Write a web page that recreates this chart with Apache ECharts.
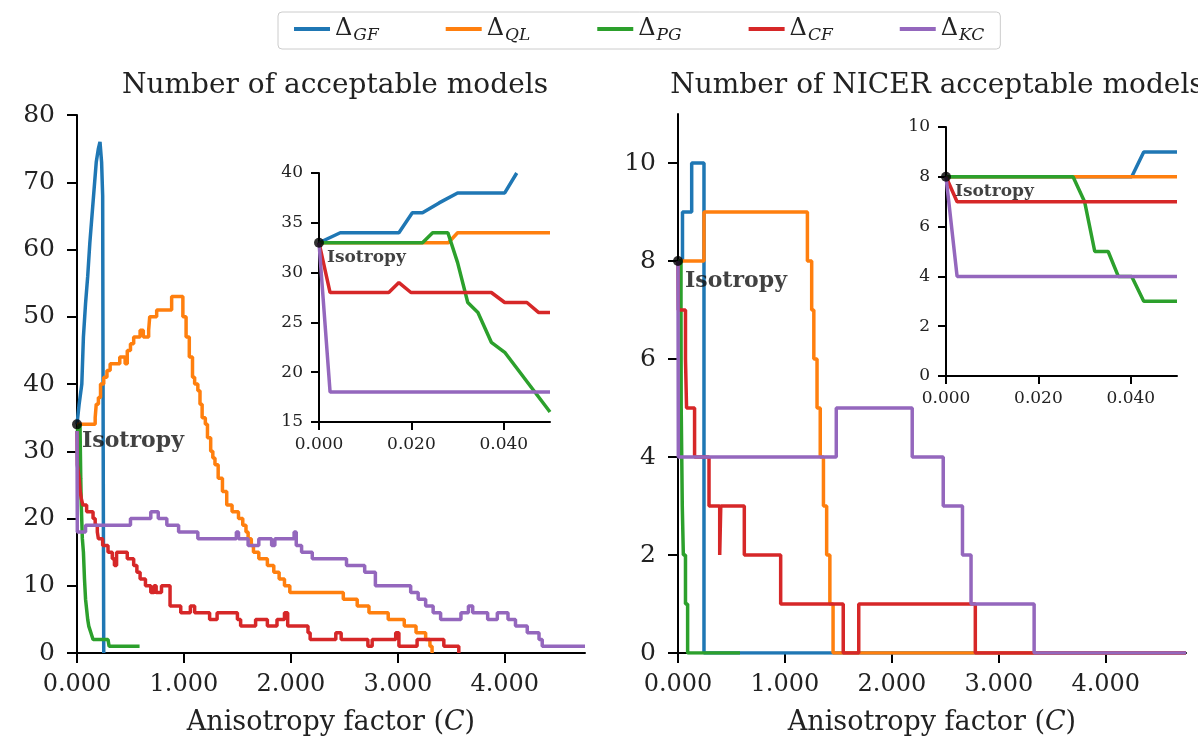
<!DOCTYPE html>
<html>
<head>
<meta charset="utf-8">
<script src="https://cdn.jsdelivr.net/npm/echarts@6/dist/echarts.min.js"></script>
<style>
html, body { margin: 0; padding: 0; background: #fff; }
#chart { width: 1198px; height: 746px; }
</style>
</head>
<body>
<div id="chart"></div>
<script>
// legend subscripts: Δ_GF, Δ_QL, Δ_PG, Δ_CF, Δ_KC
const names = ['GF', 'QL', 'PG', 'CF', 'KC'];
const colors = {GF: '#1f77b4', QL: '#ff7f0e', PG: '#2ca02c', CF: '#d62728', KC: '#9467bd'};

const mainTicksX = [0, 1, 2, 3, 4];
const insetTicksX = [0, 0.02, 0.04];
const nicerTicksY = [0, 2, 4, 6, 8, 10];

// ---- left: number of acceptable models, C from 0 to 4.75 ----
const allGF = [[0, 34], [0.02, 37], [0.045, 40], [0.06, 47], [0.08, 52], [0.1, 56], [0.12, 61], [0.14, 65], [0.16, 69], [0.18, 73], [0.2, 75], [0.215, 76], [0.23, 73], [0.24, 68], [0.245, 30], [0.25, 0]];
const allQL = [[0, 34], [0.17, 35], [0.18, 37], [0.2, 38], [0.22, 40], [0.25, 41], [0.28, 42], [0.31, 43], [0.4, 44], [0.45, 43], [0.47, 45], [0.5, 46], [0.53, 47], [0.59, 48], [0.62, 47], [0.67, 48], [0.68, 50], [0.745, 51], [0.885, 53], [0.99, 50], [1.02, 47], [1.05, 44], [1.08, 41], [1.1, 40], [1.13, 39], [1.15, 37], [1.17, 35], [1.2, 34], [1.22, 32], [1.25, 30], [1.27, 29], [1.29, 28], [1.32, 26], [1.36, 24], [1.4, 22], [1.45, 21], [1.51, 20], [1.55, 19], [1.58, 18], [1.6, 17], [1.63, 16], [1.65, 15], [1.7, 14], [1.78, 13], [1.84, 12], [1.89, 11], [1.94, 10], [1.99, 9], [2.49, 8], [2.62, 7], [2.73, 6], [2.91, 5], [3.06, 4], [3.17, 3], [3.26, 2], [3.3, 1], [3.32, 0]];
const allPG = [[0, 33], [0.028, 34], [0.035, 26], [0.04, 22], [0.05, 17], [0.06, 15], [0.07, 11], [0.08, 8], [0.1, 5], [0.11, 4], [0.13, 3], [0.15, 2], [0.29, 2], [0.3, 1], [0.585, 1]];
const allCF = [[0, 33], [0.003, 28], [0.02, 26], [0.03, 24], [0.04, 23], [0.055, 22], [0.09, 21], [0.15, 20], [0.17, 19], [0.19, 18], [0.2, 17], [0.24, 16], [0.29, 15], [0.33, 14], [0.35, 13], [0.37, 15], [0.47, 14], [0.53, 13], [0.56, 12], [0.59, 11], [0.64, 10], [0.69, 9], [0.72, 10], [0.74, 9], [0.79, 10], [0.87, 7], [0.97, 6], [1.06, 7], [1.1, 6], [1.24, 5], [1.31, 6], [1.5, 5], [1.53, 4], [1.67, 5], [1.78, 4], [1.87, 5], [1.94, 6], [1.97, 4], [2.16, 3], [2.18, 2], [2.42, 3], [2.47, 2], [2.72, 1], [2.76, 2], [2.98, 3], [3.01, 1], [3.18, 2], [3.43, 1], [3.57, 0]];
const allKC = [[0, 33], [0.003, 18], [0.08, 19], [0.5, 20], [0.69, 21], [0.76, 20], [0.84, 19], [0.95, 18], [1.13, 17], [1.49, 18], [1.51, 17], [1.6, 16], [1.7, 17], [1.82, 16], [1.85, 17], [2.03, 18], [2.05, 16], [2.1, 15], [2.2, 14], [2.52, 13], [2.69, 12], [2.79, 10], [3.12, 9], [3.19, 8], [3.26, 7], [3.33, 6], [3.4, 5], [3.59, 6], [3.66, 7], [3.7, 6], [3.84, 5], [3.93, 6], [4.03, 5], [4.1, 4], [4.21, 3], [4.32, 2], [4.35, 1], [4.75, 1]];

// left inset, C from 0 to 0.05
const zoomGF = [[0, 33], [0.0046, 34], [0.0173, 34], [0.0202, 36], [0.0224, 36], [0.026, 37], [0.03, 38], [0.0402, 38], [0.0428, 40]];
const zoomQL = [[0, 33], [0.028, 33], [0.03, 34], [0.05, 34]];
const zoomPG = [[0, 33], [0.0224, 33], [0.0246, 34], [0.0279, 34], [0.03, 31], [0.0322, 27], [0.0344, 26], [0.0373, 23], [0.0402, 22], [0.05, 16]];
const zoomCF = [[0, 33], [0.0024, 28], [0.0151, 28], [0.0173, 29], [0.0199, 28], [0.0373, 28], [0.0402, 27], [0.045, 27], [0.0475, 26], [0.05, 26]];
const zoomKC = [[0, 33], [0.0024, 18], [0.05, 18]];

// ---- right: number of NICER acceptable models ----
const nicerGF = [[0, 8], [0.042, 9], [0.128, 10], [0.243, 0], [4.75, 0]];
const nicerQL = [[0, 8], [0.243, 9], [1.21, 8], [1.25, 7], [1.27, 6], [1.3, 5], [1.33, 4], [1.36, 3], [1.39, 2], [1.42, 1], [1.45, 0], [4.75, 0]];
const nicerPG = [[0, 8], [0.028, 7], [0.03, 5], [0.035, 4], [0.04, 3], [0.05, 2], [0.07, 1], [0.09, 0], [0.58, 0]];
const nicerCF = [[0, 8], [0.003, 7], [0.07, 6], [0.08, 5], [0.155, 4], [0.29, 3], [0.39, 2], [0.40, 3], [0.62, 2], [0.96, 1], [1.545, 0], [1.69, 1], [2.78, 0], [4.75, 0]];
const nicerKC = [[0, 8], [0.003, 4], [1.48, 5], [2.19, 4], [2.48, 3], [2.66, 2], [2.74, 1], [3.33, 0], [4.75, 0]];

// right inset
const nzoomGF = [[0, 8], [0.0402, 8], [0.0428, 9], [0.05, 9]];
const nzoomQL = [[0, 8], [0.05, 8]];
const nzoomPG = [[0, 8], [0.0275, 8], [0.03, 7], [0.0322, 5], [0.0351, 5], [0.0373, 4], [0.0402, 4], [0.0428, 3], [0.05, 3]];
const nzoomCF = [[0, 8], [0.0024, 7], [0.05, 7]];
const nzoomKC = [[0, 8], [0.0024, 4], [0.05, 4]];

// isotropy points [C, value]
const isoAll = [0, 34];
const isoZoom = [0, 33];
const isoNicer = [0, 8];
const isoNzoom = [0, 8];

const serif = 'DejaVu Serif';

function xAxis(gi, max, ticks, big) {
    return {
        type: 'value', gridIndex: gi, min: 0, max: max,
        splitLine: {show: false},
        axisLine: {lineStyle: {color: '#000', width: 2}},
        axisTick: {customValues: ticks, length: big ? 10 : 8, lineStyle: {color: '#000', width: 2}},
        axisLabel: {
            customValues: ticks, margin: big ? 20 : 14,
            formatter: v => v.toFixed(3),
            fontFamily: serif, fontSize: big ? 24 : 17, color: '#222'
        },
        name: big ? '{n|Anisotropy factor (}{i|C}{n|)}' : '',
        nameLocation: 'middle', nameGap: 56,
        nameTextStyle: {
            rich: {
                n: {fontFamily: serif, fontSize: 27, color: '#222'},
                i: {fontFamily: serif, fontSize: 27, fontStyle: 'italic', color: '#222'}
            }
        }
    };
}

function yAxis(gi, min, max, interval, ticks, big) {
    const ax = {
        type: 'value', gridIndex: gi, min: min, max: max,
        splitLine: {show: false},
        axisLine: {show: true, lineStyle: {color: '#000', width: 2}},
        axisTick: {show: true, length: big ? 10 : 8, lineStyle: {color: '#000', width: 2}},
        axisLabel: {margin: big ? 22 : 16, fontFamily: serif, fontSize: big ? 25 : 17, color: '#222'}
    };
    if (ticks) {
        ax.axisTick.customValues = ticks;
        ax.axisLabel.customValues = ticks;
    } else {
        ax.interval = interval;
    }
    return ax;
}

function line(name, data, gi, step, width) {
    return {
        name: name, type: 'line', xAxisIndex: gi, yAxisIndex: gi,
        data: data, step: step, symbol: 'none', showSymbol: false,
        lineStyle: {color: colors[name], width: width},
        itemStyle: {color: colors[name]},
        animation: false
    };
}

function iso(gi, point, pos, size) {
    return {
        type: 'scatter', xAxisIndex: gi, yAxisIndex: gi, data: [point],
        symbolSize: 10, clip: false, z: 10, animation: false,
        itemStyle: {color: '#000'},
        label: {
            show: true, formatter: 'Isotropy', position: pos,
            fontFamily: serif, fontWeight: 'bold', fontSize: size, color: '#111'
        }
    };
}

const series = [
    line('GF', allGF, 0, false, 3.5),
    line('QL', allQL, 0, 'end', 3.5),
    line('PG', allPG, 0, false, 3.5),
    line('CF', allCF, 0, 'end', 3.5),
    line('KC', allKC, 0, 'end', 3.5),
    iso(0, isoAll, [10, 11], 22),

    line('GF', zoomGF, 1, false, 3.5),
    line('QL', zoomQL, 1, false, 3.5),
    line('PG', zoomPG, 1, false, 3.5),
    line('CF', zoomCF, 1, false, 3.5),
    line('KC', zoomKC, 1, false, 3.5),
    iso(1, isoZoom, [13, 11], 17),

    line('GF', nicerGF, 2, 'end', 3.5),
    line('QL', nicerQL, 2, 'end', 3.5),
    line('PG', nicerPG, 2, 'end', 3.5),
    line('CF', nicerCF, 2, 'end', 3.5),
    line('KC', nicerKC, 2, 'end', 3.5),
    iso(2, isoNicer, [12, 14], 22),

    line('GF', nzoomGF, 3, false, 3.5),
    line('QL', nzoomQL, 3, false, 3.5),
    line('PG', nzoomPG, 3, false, 3.5),
    line('CF', nzoomCF, 3, false, 3.5),
    line('KC', nzoomKC, 3, false, 3.5),
    iso(3, isoNzoom, [14, 11], 17)
];

const option = {
    backgroundColor: '#fff',
    animation: false,
    title: [
        {text: 'Number of acceptable models', left: 330, top: 67, textAlign: 'center',
            textStyle: {fontFamily: serif, fontSize: 28, fontWeight: 'normal', color: '#222'}},
        {text: 'Number of NICER acceptable models', left: 932, top: 67, textAlign: 'center',
            textStyle: {fontFamily: serif, fontSize: 28, fontWeight: 'normal', color: '#222'}}
    ],
    legend: {
        data: names,
        left: 278, top: 12,
        padding: [5, 16, 5, 16],
        borderColor: '#ccc', borderWidth: 1, borderRadius: 4,
        icon: 'rect', itemWidth: 36, itemHeight: 4, itemGap: 67,
        formatter: n => '{d|Δ}{s|' + n + '}',
        textStyle: {
            rich: {
                d: {fontFamily: serif, fontSize: 24, color: '#222', lineHeight: 30, verticalAlign: 'middle'},
                s: {fontFamily: serif, fontSize: 17, fontStyle: 'italic', color: '#222', lineHeight: 30, verticalAlign: 'bottom', padding: [8, 0, 0, 1]}
            }
        }
    },
    grid: [
        {left: 77, top: 115, width: 508, height: 538},
        {left: 319, top: 173, width: 231, height: 249},
        {left: 678, top: 114, width: 508, height: 539},
        {left: 946, top: 127, width: 231, height: 249}
    ],
    xAxis: [
        xAxis(0, 4.75, mainTicksX, true),
        xAxis(1, 0.05, insetTicksX, false),
        xAxis(2, 4.75, mainTicksX, true),
        xAxis(3, 0.05, insetTicksX, false)
    ],
    yAxis: [
        yAxis(0, 0, 80, 10, null, true),
        yAxis(1, 15, 40, 5, null, false),
        yAxis(2, 0, 11, 2, nicerTicksY, true),
        yAxis(3, 0, 10, 2, null, false)
    ],
    series: series
};

const myChart = echarts.init(document.getElementById('chart'));
myChart.setOption(option);
</script>
</body>
</html>
